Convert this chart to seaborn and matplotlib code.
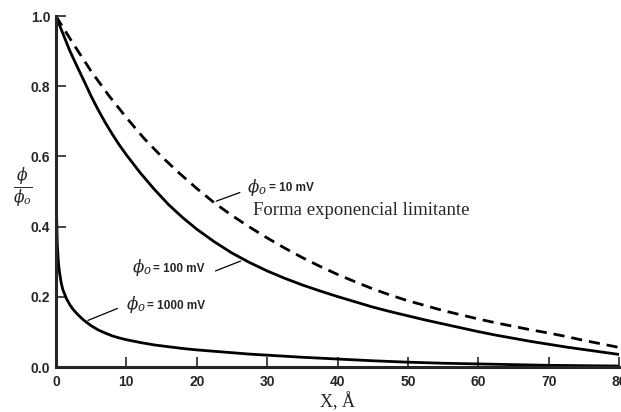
import numpy as np
import pandas as pd
import seaborn as sns
import matplotlib as mpl
import matplotlib.pyplot as plt

# values (x in Angstrom, y = phi/phi_o)
x10 = [0, 2.5, 5, 7.5, 10, 12.5, 15, 17.5, 20, 22.5, 25, 27.5, 30, 32.5, 35,
       37.5, 40, 42.5, 45, 47.5, 50, 52.5, 55, 57.5, 60, 62.5, 65, 67.5, 70,
       72.5, 75, 77.5, 80]
y10 = [1.0, 0.92, 0.843, 0.774, 0.711, 0.652, 0.60, 0.553, 0.509, 0.468,
       0.432, 0.399, 0.368, 0.339, 0.312, 0.287, 0.264, 0.243, 0.223, 0.205,
       0.189, 0.175, 0.161, 0.149, 0.137, 0.126, 0.116, 0.106, 0.097, 0.087,
       0.076, 0.066, 0.056]

x100 = [0, 1, 2, 3, 4, 5, 6, 7, 8, 9, 10, 12, 14, 16, 18, 20, 22.5, 25, 27.5,
        30, 32.5, 35, 37.5, 40, 42.5, 45, 47.5, 50, 52.5, 55, 57.5, 60, 62.5,
        65, 67.5, 70, 72.5, 75, 77.5, 80]
y100 = [1.0, 0.95, 0.90, 0.857, 0.815, 0.772, 0.733, 0.697, 0.664, 0.633,
        0.605, 0.553, 0.506, 0.463, 0.426, 0.393, 0.357, 0.325, 0.298, 0.274,
        0.253, 0.234, 0.217, 0.201, 0.186, 0.171, 0.158, 0.146, 0.134, 0.123,
        0.112, 0.101, 0.091, 0.082, 0.073, 0.065, 0.057, 0.050, 0.043, 0.036]

x1000 = [0, 0.02, 0.05, 0.1, 0.2, 0.35, 0.5, 0.75, 1, 1.5, 2, 2.5, 3, 3.5, 4,
         5, 6, 7, 8, 9, 10, 12, 14, 16, 18, 20, 22.5, 25, 27.5, 30, 35, 40,
         45, 50, 55, 60, 65, 70, 75, 80]
y1000 = [1.0, 0.75, 0.57, 0.43, 0.35, 0.30, 0.272, 0.24, 0.22, 0.195, 0.177,
         0.163, 0.152, 0.142, 0.133, 0.118, 0.106, 0.097, 0.089, 0.083, 0.078,
         0.070, 0.063, 0.058, 0.053, 0.049, 0.045, 0.041, 0.037, 0.034, 0.028,
         0.023, 0.018, 0.014, 0.011, 0.009, 0.007, 0.005, 0.004, 0.003]

xticks = [0, 10, 20, 30, 40, 50, 60, 70, 80]
yticks = [0.0, 0.2, 0.4, 0.6, 0.8, 1.0]

d = pd.concat([
    pd.DataFrame({'x': x10, 'y': y10, 'phi0': '10 mV'}),
    pd.DataFrame({'x': x100, 'y': y100, 'phi0': '100 mV'}),
    pd.DataFrame({'x': x1000, 'y': y1000, 'phi0': '1000 mV'}),
])

sns.set_style('ticks')
mpl.rcParams['font.family'] = ['Liberation Sans', 'DejaVu Sans']
mpl.rcParams['mathtext.fontset'] = 'dejavuserif'

fig = plt.figure(figsize=(6.21, 4.12), dpi=100)
ax = fig.add_axes([0.090, 0.109, 0.907, 0.852])

sns.lineplot(data=d, x='x', y='y', hue='phi0', style='phi0',
             palette=['k', 'k', 'k'],
             dashes={'10 mV': (4, 2.5), '100 mV': '', '1000 mV': ''},
             lw=2.0, sort=False, legend=False, ax=ax)

ax.set_xlim(0, 80)
ax.set_ylim(0, 1.0)
ax.set_xticks(xticks)
ax.set_yticks(yticks)
ax.set_yticklabels(['{:.1f}'.format(y) for y in yticks])
ax.tick_params(direction='in', length=7, width=1.2, labelsize=10, pad=4)
ax.tick_params(axis='x', pad=6)
for lab in ax.get_xticklabels() + ax.get_yticklabels():
    lab.set_fontweight('bold')
sns.despine(ax=ax)
for s in ['left', 'bottom']:
    ax.spines[s].set_linewidth(2.2)

ax.set_xlabel('X, Å', family='Liberation Serif', fontsize=13, labelpad=2)
ax.set_ylabel('')
fig.text(0.036, 0.544, r'$\frac{\phi}{\phi_o}$', fontsize=16, ha='center', va='center')

# curve labels: leader line, phi_o symbol, then the value
def curveLabel(txt, xt, yt, xa, ya, xl, yl):
    ax.annotate('', xy=(xa, ya), xytext=(xl, yl),
                arrowprops=dict(arrowstyle='-', lw=0.9, color='k'))
    ax.text(xt, yt, r'$\phi_o$', fontsize=12, ha='left', va='center')
    ax.text(xt + 3.0, yt - 0.004, '= ' + txt, fontsize=8.5, fontweight='bold',
            ha='left', va='center')

curveLabel('10 mV', 27.2, 0.513, 22.4, 0.47, 26.5, 0.50)
curveLabel('100 mV', 10.8, 0.283, 26.6, 0.305, 22.3, 0.271)
curveLabel('1000 mV', 10.0, 0.178, 4.2, 0.13, 9.1, 0.17)

ax.text(28.0, 0.447, 'Forma exponencial limitante', family='Liberation Serif',
        fontsize=13.5, ha='left', va='center')

fig.savefig('out.png', dpi=100)
